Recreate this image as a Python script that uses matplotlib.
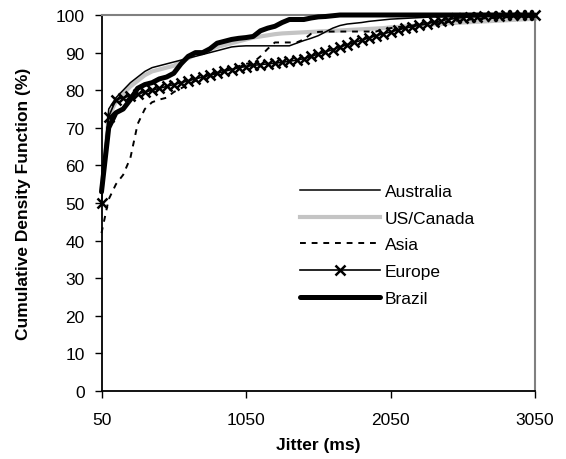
import matplotlib
matplotlib.use("Agg")
import matplotlib.pyplot as plt

plt.rcParams['font.family'] = ['Liberation Sans', 'DejaVu Sans']

jitter_ms = [50, 100, 150, 200, 250, 300, 350, 400, 450, 500,
             550, 600, 650, 700, 750, 800, 850, 900, 950, 1000,
             1050, 1100, 1150, 1200, 1250, 1300, 1350, 1400, 1450, 1500,
             1550, 1600, 1650, 1700, 1750, 1800, 1850, 1900, 1950, 2000,
             2050, 2100, 2150, 2200, 2250, 2300, 2350, 2400, 2450, 2500,
             2550, 2600, 2650, 2700, 2750, 2800, 2850, 2900, 2950, 3000,
             3050]

australia = [54, 75, 78, 80, 82, 83.5, 85, 86, 86.5, 87,
             87.5, 88, 88.5, 89, 89.5, 90, 90.5, 91, 91.5, 91.7,
             91.8, 91.8, 91.8, 91.8, 91.8, 91.8, 91.8, 92.5, 93.2, 93.8,
             94.5, 95.5, 96.5, 97.2, 97.6, 97.8, 98, 98.3, 98.5, 98.7,
             98.9, 99, 99.1, 99.2, 99.3, 99.4, 99.5, 99.5, 99.6, 99.6,
             99.7, 99.7, 99.8, 99.8, 99.8, 99.9, 99.9, 99.9, 100, 100,
             100]

us_canada = [53, 73, 77, 79, 81, 82.5, 84, 85, 85.5, 86,
             86.5, 87.5, 88.5, 89.5, 90, 90.8, 91.5, 92, 92.5, 93,
             93.5, 94, 94.3, 94.6, 94.9, 95.1, 95.2, 95.3, 95.4, 95.5,
             95.6, 95.7, 95.8, 95.9, 96, 96.1, 96.2, 96.3, 96.4, 96.5,
             96.7, 96.8, 97, 97.1, 97.2, 97.4, 97.5, 97.6, 97.8, 97.9,
             98, 98.1, 98.2, 98.3, 98.4, 98.5, 98.6, 98.7, 98.8, 98.9,
             99]

asia = [42, 51, 55, 57.5, 62, 71, 75, 76.8, 77.5, 78,
        79.5, 80.5, 81.5, 82.5, 83.3, 84, 84.6, 85.2, 85.8, 86.4,
        87, 87.4, 89, 91, 92.7, 92.7, 92.7, 92.7, 93.5, 95,
        95.5, 95.6, 95.6, 95.6, 95.6, 95.6, 95.6, 95.6, 95.6, 96.2,
        96.5, 96.8, 97, 97.2, 97.4, 97.6, 97.8, 98, 98.2, 98.4,
        98.6, 98.8, 99, 99.1, 99.2, 99.3, 99.4, 99.5, 99.5, 99.6,
        99.7]

europe = [50, 73, 77.5, 78, 78.5, 79, 79.5, 80, 80.5, 81,
          81.5, 82, 82.5, 83, 83.5, 84, 84.5, 85, 85.5, 86,
          86.3, 86.6, 86.8, 87, 87.2, 87.4, 87.7, 88, 88.4, 89,
          89.6, 90.2, 90.8, 91.5, 92.1, 92.7, 93.3, 93.9, 94.5, 95,
          95.5, 96, 96.5, 96.9, 97.3, 97.7, 98.1, 98.5, 98.8, 99.1,
          99.3, 99.5, 99.6, 99.7, 99.8, 99.8, 99.9, 99.9, 100, 100,
          100]

brazil = [53, 70, 74, 75, 77.5, 80.5, 81.5, 82, 83, 83.5,
          84.5, 87, 89, 90, 90, 91, 92.5, 93, 93.5, 93.8,
          94, 94.3, 95.8, 96.5, 97, 98, 98.8, 98.8, 98.8, 99.2,
          99.5, 99.6, 99.8, 100, 100, 100, 100, 100, 100, 100,
          100, 100, 100, 100, 100, 100, 100, 100, 100, 100,
          100, 100, 100, 100, 100, 100, 100, 100, 100, 100,
          100]

x_ticks = [50, 1050, 2050, 3050]
y_ticks = [0, 10, 20, 30, 40, 50, 60, 70, 80, 90, 100]

W, H = 566, 460
fig = plt.figure(figsize=(W / 100, H / 100), dpi=100)
ax = fig.add_axes([101.5 / W, 1 - 392 / H, (535 - 101.5) / W, (392 - 16) / H])

ax.plot(jitter_ms, australia, color='black', lw=1.1, label='Australia', clip_on=False, zorder=3)
ax.plot(jitter_ms, us_canada, color='#c4c4c4', lw=3.0, label='US/Canada', clip_on=False, zorder=2)
ax.plot(jitter_ms, asia, color='black', lw=1.4, ls=(0, (3, 3)), label='Asia', clip_on=False, zorder=4)
ax.plot(jitter_ms, europe, color='black', lw=1.2, marker='x', markersize=7.5, mew=1.8,
        label='Europe', clip_on=False, zorder=5)
ax.plot(jitter_ms, brazil, color='black', lw=3.6, solid_capstyle='round', label='Brazil',
        clip_on=False, zorder=6)

ax.set_xlim(50, 3050)
ax.set_ylim(0, 100)
ax.set_xticks(x_ticks)
ax.set_yticks(y_ticks)
ax.tick_params(axis='both', direction='out', length=5, width=1.0, labelsize=12.5, colors='black')
ax.tick_params(axis='x', pad=10)
ax.tick_params(axis='y', pad=7)

for s in ['top', 'right']:
    ax.spines[s].set_color('#808080')
    ax.spines[s].set_linewidth(1.5)
for s in ['left', 'bottom']:
    ax.spines[s].set_color('black')
    ax.spines[s].set_linewidth(1.3)

ax.set_xlabel('Jitter (ms)', fontsize=12.5, fontweight='bold', labelpad=7)
ax.set_ylabel('Cumulative Density Function (%)', fontsize=12.5, fontweight='bold', labelpad=18)

leg = ax.legend(loc='upper left', bbox_to_anchor=(300 / W, 1 - 185 / H),
                bbox_transform=fig.transFigure, frameon=False, fontsize=12.5,
                handlelength=4.6, handletextpad=0.3, labelspacing=0.66,
                borderpad=0, borderaxespad=0, numpoints=1)

fig.savefig('out.png', dpi=100)
